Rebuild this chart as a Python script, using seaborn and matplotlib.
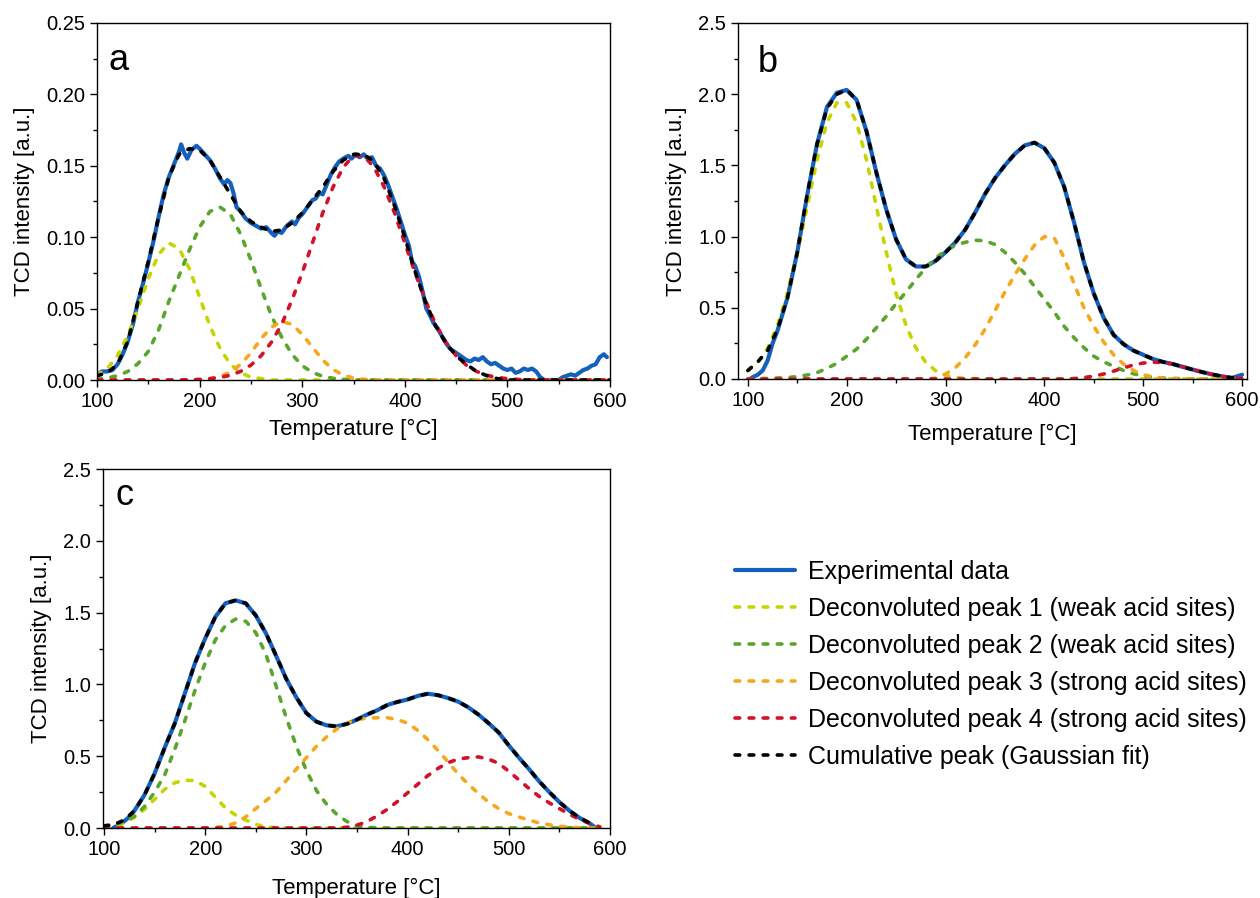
import numpy as np
import matplotlib
matplotlib.use("Agg")
import matplotlib.pyplot as plt
from matplotlib.lines import Line2D
from matplotlib.ticker import MultipleLocator, FormatStrFormatter
import seaborn as sns

# ---------------- data ----------------
# common temperature grid for fitted curves [degC]
temp = [100, 110, 120, 130, 140, 150, 160, 170, 180, 190,
        200, 210, 220, 230, 240, 250, 260, 270, 280, 290,
        300, 310, 320, 330, 340, 350, 360, 370, 380, 390,
        400, 410, 420, 430, 440, 450, 460, 470, 480, 490,
        500, 510, 520, 530, 540, 550, 560, 570, 580, 590, 600]

# panel a
a_exp_T = [100, 105, 110, 115, 120, 125, 130, 135, 140, 145, 150, 155, 160, 165, 170, 175, 180, 182, 185, 188,
           192, 197, 200, 205, 210, 215, 220, 224, 227, 230, 233, 236, 240, 245, 250, 255, 260, 265, 270, 273,
           276, 280, 285, 290, 293, 297, 300, 305, 310, 313, 317, 320, 324, 328, 332, 336, 340, 345, 348, 352,
           356, 360, 364, 368, 372, 376, 380, 384, 388, 392, 396, 400, 404, 407, 410, 414, 418, 421, 424, 428,
           432, 436, 440, 444, 448, 452, 456, 460, 464, 468, 472, 476, 480, 484, 488, 492, 496, 500, 504, 508,
           512, 516, 520, 524, 528, 532, 536, 540, 545, 550, 554, 558, 562, 566, 570, 574, 578, 582, 586, 590,
           594, 597]
a_exp_I = [0.004, 0.006, 0.006, 0.007, 0.011, 0.018, 0.027, 0.039, 0.055, 0.068, 0.082, 0.097, 0.114, 0.130, 0.142, 0.151, 0.160, 0.165, 0.159, 0.155,
           0.161, 0.164, 0.162, 0.158, 0.154, 0.148, 0.141, 0.137, 0.140, 0.138, 0.131, 0.121, 0.118, 0.113, 0.110, 0.108, 0.106, 0.107, 0.103, 0.101,
           0.104, 0.103, 0.108, 0.111, 0.109, 0.114, 0.116, 0.121, 0.126, 0.127, 0.131, 0.130, 0.137, 0.144, 0.149, 0.153, 0.155, 0.157, 0.155, 0.158,
           0.156, 0.158, 0.155, 0.156, 0.150, 0.148, 0.143, 0.136, 0.128, 0.120, 0.111, 0.102, 0.094, 0.083, 0.080, 0.072, 0.060, 0.050, 0.046, 0.040,
           0.036, 0.031, 0.026, 0.022, 0.020, 0.018, 0.016, 0.014, 0.013, 0.015, 0.014, 0.016, 0.013, 0.011, 0.012, 0.010, 0.008, 0.007, 0.008, 0.005,
           0.006, 0.008, 0.007, 0.008, 0.006, 0.002, 0.0, 0.0, 0.0, 0.0, 0.002, 0.003, 0.004, 0.003, 0.005, 0.007, 0.008, 0.010, 0.011, 0.016,
           0.018, 0.016]
a_p1 = [0.0035, 0.008, 0.017, 0.031, 0.050, 0.071, 0.088, 0.096, 0.092, 0.078,
        0.058, 0.038, 0.022, 0.011, 0.005, 0.002, 0.001, 0, 0, 0,
        0, 0, 0, 0, 0, 0, 0, 0, 0, 0, 0, 0, 0, 0, 0, 0, 0, 0, 0, 0,
        0, 0, 0, 0, 0, 0, 0, 0, 0, 0, 0]
a_p2 = [0.0006, 0.0014, 0.003, 0.006, 0.0115, 0.020, 0.035, 0.055, 0.073, 0.091,
        0.107, 0.118, 0.121, 0.116, 0.102, 0.084, 0.064, 0.045, 0.030, 0.018,
        0.010, 0.0053, 0.0026, 0.0012, 0.0005, 0, 0, 0, 0, 0, 0, 0, 0, 0, 0, 0, 0, 0, 0, 0,
        0, 0, 0, 0, 0, 0, 0, 0, 0, 0, 0]
a_p3 = [0, 0, 0, 0, 0, 0, 0, 0, 0, 0,
        0.0003, 0.001, 0.0025, 0.0055, 0.011, 0.019, 0.029, 0.037, 0.041, 0.039,
        0.032, 0.023, 0.014, 0.0074, 0.0034, 0.0013, 0.0005, 0, 0, 0,
        0, 0, 0, 0, 0, 0, 0, 0, 0, 0, 0, 0, 0, 0, 0, 0, 0, 0, 0, 0, 0]
a_p4 = [0, 0, 0, 0, 0, 0, 0, 0, 0, 0.0002,
        0.0004, 0.0009, 0.0018, 0.0033, 0.006, 0.0104, 0.017, 0.0265, 0.039, 0.056,
        0.075, 0.096, 0.117, 0.135, 0.149, 0.157, 0.157, 0.149, 0.135, 0.117,
        0.096, 0.075, 0.056, 0.039, 0.0265, 0.017, 0.0104, 0.006, 0.0033, 0.0018,
        0.0009, 0.0004, 0, 0, 0, 0, 0, 0, 0, 0, 0]
a_fit = [0.003, 0.005, 0.011, 0.027, 0.055, 0.083, 0.114, 0.142, 0.158, 0.162,
         0.161, 0.154, 0.142, 0.130, 0.118, 0.111, 0.107, 0.104, 0.105, 0.110,
         0.117, 0.126, 0.135, 0.146, 0.154, 0.158, 0.158, 0.153, 0.141, 0.122,
         0.100, 0.076, 0.055, 0.038, 0.026, 0.017, 0.011, 0.006, 0.003, 0.001,
         0, 0, 0, 0, 0, 0, 0, 0, 0, 0, 0]

# panel b
b_exp_T = [103, 107, 110, 115, 120, 125, 130, 140, 150, 160, 170, 180, 190, 200, 210, 220, 230, 240, 250, 260,
           270, 280, 290, 300, 310, 320, 330, 340, 350, 360, 370, 380, 390, 400, 410, 420, 430, 440, 450, 460,
           470, 480, 490, 500, 510, 520, 530, 540, 550, 560, 570, 580, 590, 600]
b_exp_I = [0.005, 0.02, 0.03, 0.06, 0.13, 0.25, 0.34, 0.57, 0.89, 1.29, 1.65, 1.91, 2.01, 2.03, 1.96, 1.74, 1.45, 1.19, 0.98, 0.84,
           0.79, 0.79, 0.83, 0.89, 0.96, 1.05, 1.17, 1.30, 1.41, 1.50, 1.58, 1.64, 1.66, 1.62, 1.52, 1.35, 1.10, 0.82, 0.60, 0.43,
           0.31, 0.245, 0.20, 0.17, 0.14, 0.12, 0.105, 0.085, 0.066, 0.048, 0.032, 0.018, 0.008, 0.03]
b_p1 = [0.058, 0.117, 0.218, 0.376, 0.60, 0.89, 1.21, 1.54, 1.80, 1.94,
        1.94, 1.80, 1.54, 1.21, 0.89, 0.60, 0.376, 0.218, 0.117, 0.058,
        0.026, 0.011, 0.004, 0.0015, 0, 0, 0, 0, 0, 0,
        0, 0, 0, 0, 0, 0, 0, 0, 0, 0, 0, 0, 0, 0, 0, 0, 0, 0, 0, 0, 0]
b_p2 = [0.0, 0.002, 0.004, 0.007, 0.01, 0.017, 0.028, 0.045, 0.075, 0.11,
        0.16, 0.21, 0.28, 0.36, 0.44, 0.53, 0.61, 0.70, 0.78, 0.85,
        0.90, 0.94, 0.96, 0.975, 0.97, 0.945, 0.89, 0.82, 0.74, 0.65,
        0.56, 0.47, 0.37, 0.29, 0.22, 0.16, 0.12, 0.09, 0.06, 0.037,
        0.022, 0.012, 0.007, 0.004, 0.002, 0.001, 0, 0, 0, 0, 0]
b_p3 = [0, 0, 0, 0, 0, 0, 0, 0, 0, 0,
        0, 0, 0, 0, 0, 0, 0, 0, 0.001, 0.006,
        0.035, 0.08, 0.15, 0.24, 0.35, 0.48, 0.61, 0.73, 0.84, 0.94,
        1.00, 0.99, 0.85, 0.67, 0.50, 0.37, 0.26, 0.17, 0.105, 0.06,
        0.03, 0.014, 0.006, 0.002, 0, 0, 0, 0, 0, 0, 0]
b_p4 = [0, 0, 0, 0, 0, 0, 0, 0, 0, 0,
        0, 0, 0, 0, 0, 0, 0, 0, 0, 0,
        0, 0, 0, 0, 0, 0, 0, 0, 0, 0,
        0, 0, 0, 0.003, 0.01, 0.02, 0.035, 0.055, 0.078, 0.098,
        0.112, 0.118, 0.116, 0.105, 0.087, 0.066, 0.048, 0.032, 0.018, 0.008, 0.003]
b_fit = [0.06, 0.12, 0.20, 0.35, 0.57, 0.89, 1.29, 1.65, 1.90, 2.00,
         2.03, 1.96, 1.74, 1.45, 1.19, 0.98, 0.84, 0.79, 0.79, 0.83,
         0.89, 0.96, 1.05, 1.17, 1.30, 1.41, 1.50, 1.58, 1.64, 1.66,
         1.62, 1.52, 1.35, 1.10, 0.82, 0.60, 0.43, 0.31, 0.245, 0.20,
         0.17, 0.14, 0.12, 0.105, 0.085, 0.066, 0.048, 0.032, 0.018, 0.008, 0.01]

# panel c
c_exp_T = [109, 117, 125, 130, 140, 150, 160, 170, 180, 190, 200, 210, 220, 230, 240, 250, 260, 270, 280, 290,
           300, 310, 320, 330, 340, 350, 360, 370, 380, 390, 400, 410, 420, 430, 440, 450, 460, 470, 480, 490,
           500, 510, 520, 530, 540, 550, 560, 570, 580, 586]
c_exp_I = [0.0, 0.03, 0.077, 0.12, 0.23, 0.38, 0.56, 0.73, 0.94, 1.15, 1.32, 1.47, 1.565, 1.585, 1.565, 1.48, 1.356, 1.20, 1.04, 0.91,
           0.80, 0.74, 0.715, 0.708, 0.725, 0.755, 0.79, 0.82, 0.857, 0.878, 0.895, 0.92, 0.935, 0.925, 0.905, 0.88, 0.84, 0.79, 0.73, 0.665,
           0.575, 0.49, 0.41, 0.325, 0.25, 0.18, 0.12, 0.07, 0.032, 0.0]
c_p1 = [0.006, 0.015, 0.035, 0.075, 0.13, 0.20, 0.27, 0.315, 0.333, 0.33,
        0.29, 0.215, 0.14, 0.09, 0.055, 0.025, 0.008, 0.002, 0, 0,
        0, 0, 0, 0, 0, 0, 0, 0, 0, 0, 0, 0, 0, 0, 0, 0, 0, 0, 0, 0,
        0, 0, 0, 0, 0, 0, 0, 0, 0, 0, np.nan]
c_p2 = [0.01, 0.02, 0.045, 0.08, 0.15, 0.25, 0.37, 0.55, 0.75, 0.96,
        1.15, 1.31, 1.41, 1.455, 1.44, 1.36, 1.21, 0.99, 0.77, 0.57,
        0.40, 0.26, 0.165, 0.095, 0.045, 0.015, 0.005, 0.001, 0, 0,
        0, 0, 0, 0, 0, 0, 0, 0, 0, 0, 0, 0, 0, 0, 0, 0, 0, 0, 0, 0, np.nan]
c_p3 = [0, 0, 0, 0, 0, 0, 0, 0, 0, 0,
        0.001, 0.004, 0.012, 0.035, 0.077, 0.135, 0.19, 0.25, 0.33, 0.41,
        0.49, 0.57, 0.635, 0.69, 0.73, 0.755, 0.765, 0.768, 0.768, 0.755,
        0.73, 0.68, 0.615, 0.54, 0.46, 0.375, 0.305, 0.24, 0.18, 0.135,
        0.10, 0.077, 0.055, 0.035, 0.022, 0.012, 0.006, 0.002, 0, 0, np.nan]
c_p4 = [0, 0, 0, 0, 0, 0, 0, 0, 0, 0,
        0, 0, 0, 0, 0, 0, 0, 0, 0, 0,
        0, 0, 0, 0, 0.005, 0.02, 0.045, 0.085, 0.13, 0.185,
        0.245, 0.305, 0.365, 0.415, 0.455, 0.48, 0.49, 0.495, 0.48, 0.45,
        0.395, 0.335, 0.275, 0.22, 0.175, 0.135, 0.095, 0.06, 0.032, 0.008, np.nan]
c_fit = [0.015, 0.025, 0.055, 0.12, 0.23, 0.38, 0.56, 0.73, 0.94, 1.15,
         1.32, 1.47, 1.565, 1.585, 1.565, 1.48, 1.356, 1.20, 1.04, 0.91,
         0.80, 0.74, 0.715, 0.708, 0.725, 0.755, 0.79, 0.82, 0.857, 0.878,
         0.895, 0.92, 0.935, 0.925, 0.905, 0.88, 0.84, 0.79, 0.73, 0.665,
         0.575, 0.49, 0.41, 0.325, 0.25, 0.18, 0.12, 0.07, 0.035, np.nan, np.nan]

labels = ["Experimental data",
          "Deconvoluted peak 1 (weak acid sites)",
          "Deconvoluted peak 2 (weak acid sites)",
          "Deconvoluted peak 3 (strong acid sites)",
          "Deconvoluted peak 4 (strong acid sites)",
          "Cumulative peak (Gaussian fit)"]

# ---------------- style ----------------
sns.set_style("ticks")
plt.rcParams['font.family'] = ['Liberation Sans', 'DejaVu Sans']
plt.rcParams['text.color'] = 'black'
plt.rcParams['axes.labelcolor'] = 'black'
plt.rcParams['xtick.color'] = 'black'
plt.rcParams['ytick.color'] = 'black'
plt.rcParams['axes.edgecolor'] = 'black'

c_exp = '#1560bd'
c_pk = ['#c5d500', '#5aa52c', '#f5a81c', '#d3112b']
c_fit_col = '#000000'
lw = 2.6
lw_exp = 3.0
dash = (0, (1.3, 2.6))
dkw = dict(linestyle=dash, dash_capstyle='round')

fig = plt.figure(figsize=(12.6, 8.98), dpi=100)
W, H = 1260, 898
ax_a = fig.add_axes([97 / W, 1 - 380 / H, 513 / W, 357 / H])
ax_b = fig.add_axes([738 / W, 1 - 379 / H, 509 / W, 356 / H])
ax_c = fig.add_axes([103 / W, 1 - 828 / H, 507 / W, 359 / H])


def draw_panel(ax, exp_T, exp_I, peaks, fit):
    sns.lineplot(x=exp_T, y=exp_I, ax=ax, color=c_exp, lw=lw_exp,
                 estimator=None, sort=False, legend=False)
    for pk, col in zip(peaks, c_pk):
        sns.lineplot(x=temp, y=pk, ax=ax, color=col, lw=lw,
                     estimator=None, sort=False, legend=False, **dkw)
    sns.lineplot(x=temp, y=fit, ax=ax, color=c_fit_col, lw=lw,
                 estimator=None, sort=False, legend=False, **dkw)


draw_panel(ax_a, a_exp_T, a_exp_I, [a_p1, a_p2, a_p3, a_p4], a_fit)
draw_panel(ax_b, b_exp_T, b_exp_I, [b_p1, b_p2, b_p3, b_p4], b_fit)
draw_panel(ax_c, c_exp_T, c_exp_I, [c_p1, c_p2, c_p3, c_p4], c_fit)

# axes cosmetics
for ax, xl, yl, ystep, fmt, letter, lpos, xpad in [
        (ax_a, (100, 600), (0, 0.25), 0.05, '%.2f', 'a', (0.023, 0.868), 6),
        (ax_b, (90, 605), (0, 2.5), 0.5, '%.1f', 'b', (0.039, 0.863), 10),
        (ax_c, (99, 600), (0, 2.5), 0.5, '%.1f', 'c', (0.024, 0.900), 14)]:
    ax.set_xlim(*xl)
    ax.set_ylim(*yl)
    ax.xaxis.set_major_locator(MultipleLocator(100))
    ax.xaxis.set_minor_locator(MultipleLocator(50))
    ax.yaxis.set_major_locator(MultipleLocator(ystep))
    ax.yaxis.set_minor_locator(MultipleLocator(ystep / 2))
    ax.yaxis.set_major_formatter(FormatStrFormatter(fmt))
    ax.tick_params(which='major', direction='out', length=5, width=1, labelsize=14.5,
                   top=False, right=False, colors='black')
    ax.tick_params(which='minor', direction='out', length=3, width=1,
                   top=False, right=False, colors='black')
    for sp in ax.spines.values():
        sp.set_visible(True)
        sp.set_linewidth(1.0)
        sp.set_color('black')
    ax.set_xlabel('Temperature [°C]', fontsize=16, labelpad=xpad, color='black')
    ax.set_ylabel('TCD intensity [a.u.]', fontsize=16, labelpad=8, color='black')
    ax.text(lpos[0], lpos[1], letter, transform=ax.transAxes, fontsize=26,
            va='baseline', ha='left', color='black')

# legend
handles = [Line2D([], [], color=c_exp, lw=lw_exp)]
for col in c_pk:
    handles.append(Line2D([], [], color=col, lw=lw, **dkw))
handles.append(Line2D([], [], color=c_fit_col, lw=lw, **dkw))
leg = fig.legend(handles, labels, loc='center left',
                 bbox_to_anchor=(735 / W, 1 - 664.5 / H), frameon=False, fontsize=18,
                 handlelength=2.4, handletextpad=0.5, labelspacing=0.52,
                 borderpad=0, borderaxespad=0)
for t in leg.get_texts():
    t.set_color('black')

fig.savefig('out.png', dpi=100)
